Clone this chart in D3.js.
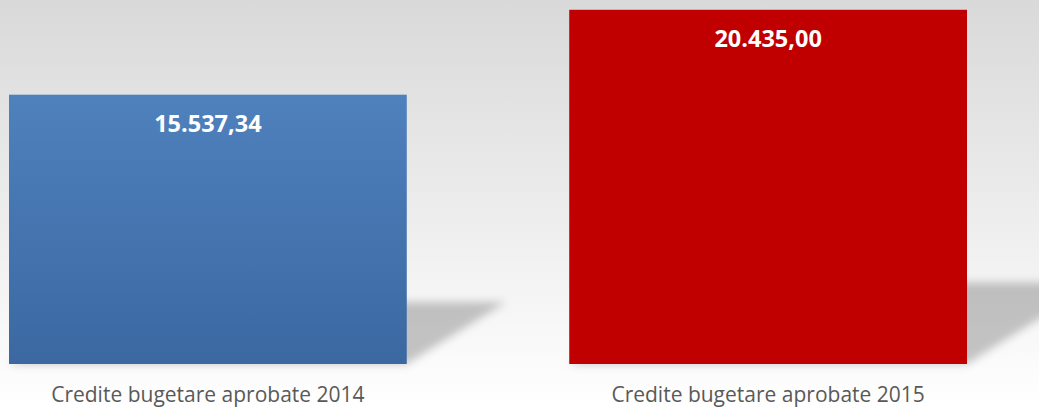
<!DOCTYPE html>
<html>
<head>
<meta charset="utf-8">
<script src="https://cdn.jsdelivr.net/npm/d3@7"></script>
<style>
  html, body { margin: 0; padding: 0; background: #fff; }
  svg { display: block; }
</style>
</head>
<body>
<svg id="chart" width="1039" height="407"></svg>
<script>
// data
const categories = ["Credite bugetare aprobate 2014", "Credite bugetare aprobate 2015"];
const values = [15537.34, 20435.00];
const valueLabels = ["15.537,34", "20.435,00"];

const W = 1039, H = 407;
const svg = d3.select("#chart");

const x = d3.scaleBand().domain(categories).range([9, 967]).paddingInner(0.29).paddingOuter(0);
const y = d3.scaleLinear().domain([0, 21000]).range([364, 0]);

const defs = svg.append("defs");

const bg = defs.append("linearGradient").attr("id", "bgGrad")
    .attr("x1", 0).attr("y1", 0).attr("x2", 0).attr("y2", 1);
bg.append("stop").attr("offset", "0%").attr("stop-color", "#d9d9d9");
bg.append("stop").attr("offset", "100%").attr("stop-color", "#ffffff");

const blue = defs.append("linearGradient").attr("id", "blueGrad")
    .attr("x1", 0).attr("y1", 0).attr("x2", 0).attr("y2", 1);
blue.append("stop").attr("offset", "0%").attr("stop-color", "#4f81bd");
blue.append("stop").attr("offset", "100%").attr("stop-color", "#3b68a1");

defs.append("filter").attr("id", "blur")
    .attr("x", "-20%").attr("y", "-50%").attr("width", "140%").attr("height", "200%")
    .append("feGaussianBlur").attr("stdDeviation", 4.5);

svg.append("rect").attr("width", W).attr("height", H).attr("fill", "url(#bgGrad)");

const fills = ["url(#blueGrad)", "#c00000"];

// perspective shadows behind bars
svg.append("g").selectAll("path")
    .data(values)
    .join("path")
    .attr("d", (d, i) => {
        const x0 = x(categories[i]), x1 = x0 + x.bandwidth();
        const b = y(0);
        const h = (y(0) - y(d)) * 0.23;
        const dx = h * 1.6;
        return `M${x0},${b}L${x1},${b}L${x1 + dx},${b - h}L${x0 + dx},${b - h}Z`;
    })
    .attr("fill", "#000")
    .attr("fill-opacity", 0.22)
    .attr("filter", "url(#blur)");

svg.append("g").selectAll("rect")
    .data(values)
    .join("rect")
    .attr("x", (d, i) => x(categories[i]))
    .attr("y", d => y(d))
    .attr("width", x.bandwidth())
    .attr("height", d => y(0) - y(d))
    .attr("fill", (d, i) => fills[i]);

svg.append("g").selectAll("text")
    .data(values)
    .join("text")
    .attr("x", (d, i) => x(categories[i]) + x.bandwidth() / 2)
    .attr("y", d => y(d) + 37)
    .attr("text-anchor", "middle")
    .attr("font-family", "'Open Sans', sans-serif")
    .attr("font-weight", "bold")
    .attr("font-size", "23.5px")
    .attr("fill", "#fff")
    .text((d, i) => valueLabels[i]);

svg.append("g").selectAll("text")
    .data(categories)
    .join("text")
    .attr("x", d => x(d) + x.bandwidth() / 2)
    .attr("y", 402)
    .attr("text-anchor", "middle")
    .attr("font-family", "'Open Sans', sans-serif")
    .attr("font-size", "21px")
    .attr("fill", "#595959")
    .text(d => d);
</script>
</body>
</html>
